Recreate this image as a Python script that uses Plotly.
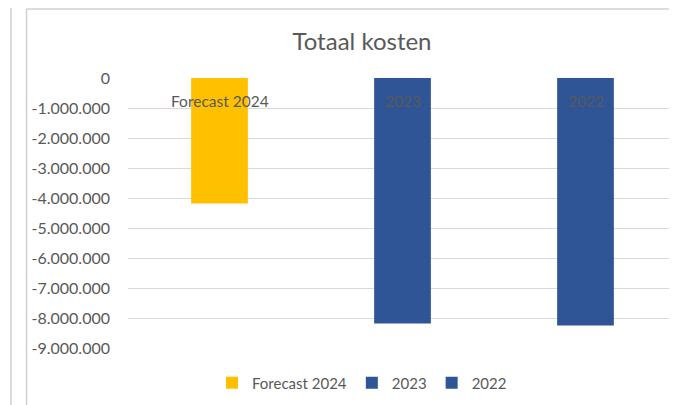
import plotly.graph_objects as go

series_names = ["Forecast 2024", "2023", "2022"]
series_values = [-4180000, -8180000, -8250000]
series_colors = ["#FFC000", "#2F5597", "#2F5597"]
tick_values = [0, -1000000, -2000000, -3000000, -4000000, -5000000,
               -6000000, -7000000, -8000000, -9000000]
tick_labels = ["0", "-1.000.000", "-2.000.000", "-3.000.000", "-4.000.000",
               "-5.000.000", "-6.000.000", "-7.000.000", "-8.000.000", "-9.000.000"]
title_text = "Totaal kosten"

OFF = 8  # page body margin
W, H = 677 - OFF, 405 - OFF
L, R, T, B = 128 - OFF, 677 - OFF, 78 - OFF, 348 - OFF
FONT = "Lato, Carlito, Calibri, sans-serif"
GREY = "#595959"

positions = list(range(len(series_names)))

fig = go.Figure()
for pos, name, val, col in zip(positions, series_names, series_values, series_colors):
    fig.add_trace(go.Bar(
        x=[pos], y=[val], name=name, marker=dict(color=col, line=dict(width=0)),
        width=0.31, showlegend=True,
    ))

annotations = []
for pos, name in zip(positions, series_names):
    annotations.append(dict(
        x=pos, y=0, xref="x", yref="y", text=name, showarrow=False,
        yshift=-23, yanchor="middle", font=dict(family=FONT, size=15.5, color=GREY),
    ))

def px(xp):
    return (xp - OFF - L) / (R - L)

def py(yp):
    return (B - (yp - OFF)) / (B - T)

shapes = [
    dict(type="line", xref="paper", yref="paper", x0=px(11), x1=px(11), y0=py(0), y1=py(405),
         line=dict(color="#d0d0d0", width=1.5)),
    dict(type="line", xref="paper", yref="paper", x0=px(26.5), x1=px(26.5), y0=py(9), y1=py(405),
         line=dict(color="#d0d0d0", width=1.5)),
    dict(type="line", xref="paper", yref="paper", x0=px(26.5), x1=px(677), y0=py(9), y1=py(9),
         line=dict(color="#d0d0d0", width=1.5)),
]

fig.update_layout(
    width=W, height=H,
    margin=dict(l=L, r=W - R, t=T, b=H - B, pad=0, autoexpand=False),
    paper_bgcolor="white", plot_bgcolor="white",
    barmode="overlay",
    font=dict(family=FONT, size=15, color=GREY),
    title=dict(text=title_text, xref="container", yref="container",
               x=(362 - OFF) / W, y=1 - (42 - OFF) / H, xanchor="center", yanchor="middle",
               font=dict(family=FONT, size=24, color=GREY)),
    xaxis=dict(type="linear", range=[-0.5, len(series_names) - 0.5],
               showticklabels=False, showgrid=False, zeroline=False,
               showline=False, automargin=False),
    yaxis=dict(range=[-9000000, 0], tickvals=tick_values, ticktext=tick_labels,
               showgrid=True, gridcolor="#d9d9d9", gridwidth=1.3, zeroline=False,
               showline=False, ticks="", ticklabelstandoff=17, automargin=False,
               tickfont=dict(family=FONT, size=16, color=GREY)),
    legend=dict(orientation="h", x=px(362), xanchor="center", y=py(383), yanchor="middle",
                font=dict(family=FONT, size=15, color=GREY), itemwidth=30,
                traceorder="normal"),
    annotations=annotations,
    shapes=shapes,
)

fig.write_html("out.html")
